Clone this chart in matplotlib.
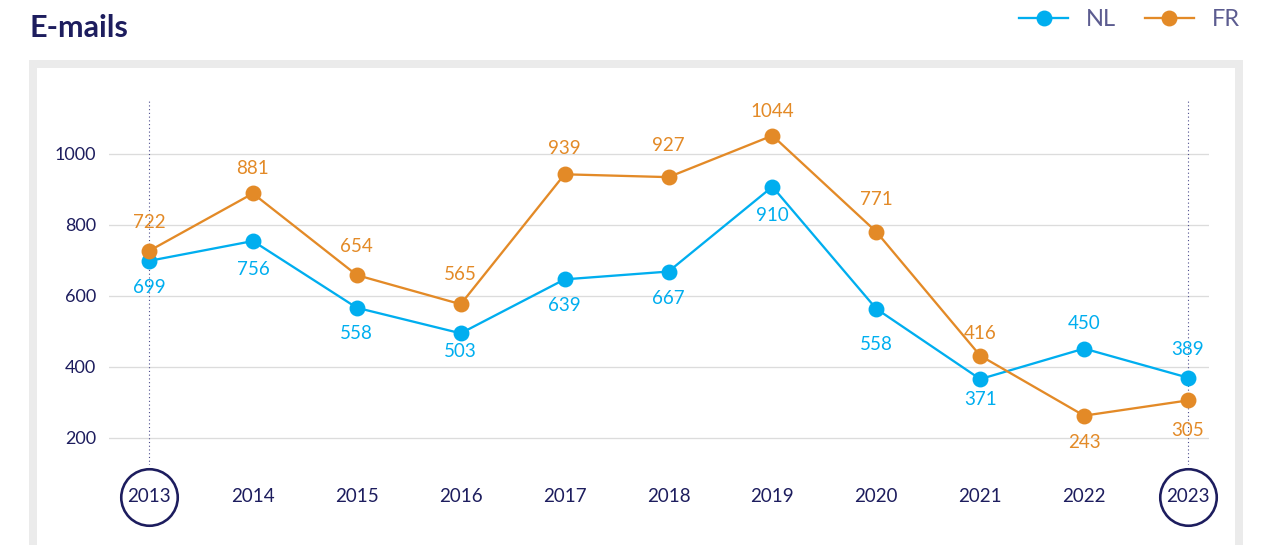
import matplotlib
matplotlib.use('Agg')
import matplotlib.pyplot as plt
import matplotlib.transforms as mtransforms
from matplotlib.patches import Rectangle
from matplotlib.lines import Line2D

# ---------------- data ----------------
years = [2013, 2014, 2015, 2016, 2017, 2018, 2019, 2020, 2021, 2022, 2023]
nl_values = [698, 754, 566, 494, 646, 668, 907, 563, 365, 451, 369]
fr_values = [726, 888, 658, 576, 942, 934, 1051, 780, 431, 262, 305]
nl_labels = ['699', '756', '558', '503', '639', '667', '910', '558', '371', '450', '389']
fr_labels = ['722', '881', '654', '565', '939', '927', '1044', '771', '416', '243', '305']
y_ticks = [200, 400, 600, 800, 1000]
highlight_years = [2013, 2023]
series_names = ['NL', 'FR']
title = 'E-mails'

# label offsets (pixels, positive = downwards)
nl_offsets = [27, 28, 26, 18, 26, 27, 29, 36, 20, -25, -28]
fr_offsets = [-28, -25, -29, -30, -26, -32, -24, -32, -22, 27, 30]

# ---------------- style ----------------
W, H, DPI = 1271, 545, 100
NAVY = '#1d1d5e'
LEGEND_TXT = '#5c5c90'
NL_C = '#00aeef'
FR_C = '#e38a27'
GRID_C = '#dcdcdc'
FRAME_C = '#ebebeb'
PT = 72.0 / DPI  # points per pixel

plt.rcParams['font.family'] = ['Lato', 'DejaVu Sans']

fig = plt.figure(figsize=(W / DPI, H / DPI), dpi=DPI)
fig.patch.set_facecolor('white')

# outer grey frame
frame = Rectangle((33 / W, -0.3), (1239 - 33) / W, (1 - 64 / H) + 0.3,
                  transform=fig.transFigure, fill=False,
                  edgecolor=FRAME_C, linewidth=8 * PT, zorder=0)
fig.add_artist(frame)

ax = fig.add_axes([109 / W, (H - 465) / H, 1100 / W, 364 / H])
ax.set_facecolor('none')
ax.set_xlim(2012.615, 2023.202)
ax.set_ylim(123, 1148.5)

for s in ax.spines.values():
    s.set_visible(False)

ax.set_yticks(y_ticks)
ax.set_yticklabels([str(t) for t in y_ticks])
ax.tick_params(axis='y', length=0, pad=13 * PT, labelsize=13, labelcolor=NAVY)
ax.set_xticks([])
ax.yaxis.grid(True, color=GRID_C, linewidth=1.3 * PT)
ax.set_axisbelow(True)

# dotted highlight lines
for yr in highlight_years:
    ax.axvline(yr, color='#4b4b8c', linestyle=(0, (1.0, 2.4)), linewidth=1.1 * PT, zorder=1)

# series
ax.plot(years, nl_values, color=NL_C, lw=2.3 * PT, marker='o', ms=14.5 * PT,
        mfc=NL_C, mec=NL_C, zorder=3)
ax.plot(years, fr_values, color=FR_C, lw=2.3 * PT, marker='o', ms=14.5 * PT,
        mfc=FR_C, mec=FR_C, zorder=4)

for x, v, lab, off in zip(years, nl_values, nl_labels, nl_offsets):
    ax.annotate(lab, (x, v), xytext=(0, -off), textcoords='offset pixels',
                ha='center', va='center', color=NL_C, fontsize=13.5, zorder=5)
for x, v, lab, off in zip(years, fr_values, fr_labels, fr_offsets):
    ax.annotate(lab, (x, v), xytext=(0, -off), textcoords='offset pixels',
                ha='center', va='center', color=FR_C, fontsize=13.5, zorder=5)

# year labels and circles
blend = mtransforms.blended_transform_factory(ax.transData, ax.transAxes)
ylab = (465 - 497) / 364
for yr in years:
    ax.text(yr, ylab, str(yr), transform=blend, ha='center', va='center',
            color=NAVY, fontsize=13.5)
ax.plot(highlight_years, [ylab] * len(highlight_years), linestyle='none', marker='o',
        ms=56.5 * PT, mfc='none', mec=NAVY, mew=2.6 * PT, transform=blend, clip_on=False)

# title
fig.text(29 / W, 1 - 37 / H, title, fontsize=22, fontweight='bold', color=NAVY,
         va='baseline', ha='left')

# legend
handles = [Line2D([], [], color=NL_C, lw=2.3 * PT, marker='o', ms=14.5 * PT),
           Line2D([], [], color=FR_C, lw=2.3 * PT, marker='o', ms=14.5 * PT)]
fig.legend(handles, series_names, loc='upper right',
           bbox_to_anchor=(1240 / W, 1 - 9 / H), ncol=2, frameon=False,
           fontsize=17, labelcolor=LEGEND_TXT, handlelength=2.1,
           handletextpad=0.75, columnspacing=1.2, borderpad=0, borderaxespad=0)

fig.savefig('out.png', dpi=DPI)
